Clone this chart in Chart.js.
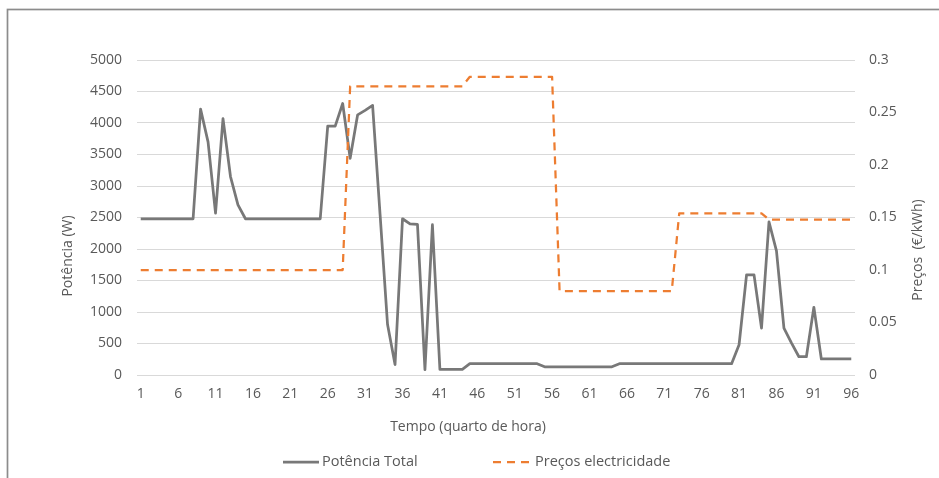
<!DOCTYPE html>
<html>
<head>
<meta charset="utf-8">
<script src="https://cdn.jsdelivr.net/npm/chart.js@4/dist/chart.umd.min.js"></script>
<style>
  html, body { margin: 0; padding: 0; background: #ffffff; }
  canvas { display: block; }
</style>
</head>
<body>
<canvas id="chart" width="939" height="478"></canvas>
<script>
// Quarter-hour slots of the day (1..96)
const quarters = [
  1, 2, 3, 4, 5, 6, 7, 8, 9, 10, 11, 12, 13, 14, 15, 16,
  17, 18, 19, 20, 21, 22, 23, 24, 25, 26, 27, 28, 29, 30, 31, 32,
  33, 34, 35, 36, 37, 38, 39, 40, 41, 42, 43, 44, 45, 46, 47, 48,
  49, 50, 51, 52, 53, 54, 55, 56, 57, 58, 59, 60, 61, 62, 63, 64,
  65, 66, 67, 68, 69, 70, 71, 72, 73, 74, 75, 76, 77, 78, 79, 80,
  81, 82, 83, 84, 85, 86, 87, 88, 89, 90, 91, 92, 93, 94, 95, 96
];

// Total power per quarter hour (W)
const potenciaTotal = [
  2480, 2480, 2480, 2480, 2480, 2480, 2480, 2480, 4220, 3700, 2570, 4070, 3150, 2700, 2480, 2480,
  2480, 2480, 2480, 2480, 2480, 2480, 2480, 2480, 2480, 3950, 3950, 4310, 3440, 4130, 4200, 4280,
  2550, 800, 165, 2480, 2400, 2390, 85, 2385, 90, 90, 90, 90, 180, 180, 180, 180,
  180, 180, 180, 180, 180, 180, 130, 130, 130, 130, 130, 130, 130, 130, 130, 130,
  180, 180, 180, 180, 180, 180, 180, 180, 180, 180, 180, 180, 180, 180, 180, 180,
  480, 1590, 1590, 745, 2430, 1970, 745, 510, 290, 290, 1075, 255, 255, 255, 255, 255
];

// Electricity price per quarter hour (€/kWh)
const precosElectricidade = [
  0.1, 0.1, 0.1, 0.1, 0.1, 0.1, 0.1, 0.1, 0.1, 0.1, 0.1, 0.1, 0.1, 0.1, 0.1, 0.1,
  0.1, 0.1, 0.1, 0.1, 0.1, 0.1, 0.1, 0.1, 0.1, 0.1, 0.1, 0.1, 0.275, 0.275, 0.275, 0.275,
  0.275, 0.275, 0.275, 0.275, 0.275, 0.275, 0.275, 0.275, 0.275, 0.275, 0.275, 0.275, 0.284, 0.284, 0.284, 0.284,
  0.284, 0.284, 0.284, 0.284, 0.284, 0.284, 0.284, 0.284, 0.08, 0.08, 0.08, 0.08, 0.08, 0.08, 0.08, 0.08,
  0.08, 0.08, 0.08, 0.08, 0.08, 0.08, 0.08, 0.08, 0.154, 0.154, 0.154, 0.154, 0.154, 0.154, 0.154, 0.154,
  0.154, 0.154, 0.154, 0.154, 0.148, 0.148, 0.148, 0.148, 0.148, 0.148, 0.148, 0.148, 0.148, 0.148, 0.148, 0.148
];

// Labels shown on the time axis
const xTickLabels = ['1', '6', '11', '16', '21', '26', '31', '36', '41', '46', '51', '56', '61', '66', '71', '76', '81', '86', '91', '96'];
// Labels for the power axis and the price axis
const powerTickLabels = ['0', '500', '1000', '1500', '2000', '2500', '3000', '3500', '4000', '4500', '5000'];
const priceTickLabels = ['0', '0.05', '0.1', '0.15', '0.2', '0.25', '0.3'];

const seriesNames = ['Potência Total', 'Preços electricidade'];
const axisTitles = { x: 'Tempo (quarto de hora)', y: 'Potência (W)', y1: 'Preços  (€/kWh)' };

const TEXT = '#595959';
const GREY = '#787878';
const ORANGE = '#ED7D31';
const FONT_FAMILY = '"Open Sans", "Noto Sans", sans-serif';
const DASH = [8, 6];

// Frame, axis titles and legend drawn on the canvas
const decorations = {
  id: 'decorations',
  beforeDraw(chart) {
    const ctx = chart.ctx;
    ctx.save();
    ctx.strokeStyle = '#8c8c8c';
    ctx.lineWidth = 1.7;
    ctx.strokeRect(7.5, 9.5, 2000, 2000);
    ctx.restore();
  },
  afterDraw(chart) {
    const ctx = chart.ctx;
    ctx.save();
    ctx.fillStyle = TEXT;
    ctx.font = '14px ' + FONT_FAMILY;
    ctx.textBaseline = 'middle';

    // x title
    ctx.textAlign = 'center';
    ctx.fillText(axisTitles.x, 468, 427);

    // left title
    ctx.save();
    ctx.translate(68, 256);
    ctx.rotate(-Math.PI / 2);
    ctx.fillText(axisTitles.y, 0, 0);
    ctx.restore();

    // right title
    ctx.save();
    ctx.translate(918, 250);
    ctx.rotate(-Math.PI / 2);
    ctx.fillText(axisTitles.y1, 0, 0);
    ctx.restore();

    // legend
    const ly = 462;
    ctx.font = '14.5px ' + FONT_FAMILY;
    ctx.textAlign = 'left';
    ctx.lineCap = 'butt';
    ctx.strokeStyle = GREY;
    ctx.lineWidth = 2.75;
    ctx.beginPath();
    ctx.moveTo(283, ly);
    ctx.lineTo(319, ly);
    ctx.stroke();
    ctx.fillText(seriesNames[0], 322, ly);

    ctx.strokeStyle = ORANGE;
    ctx.lineWidth = 2.25;
    ctx.setLineDash(DASH);
    ctx.beginPath();
    ctx.moveTo(493, ly);
    ctx.lineTo(531, ly);
    ctx.stroke();
    ctx.setLineDash([]);
    ctx.fillText(seriesNames[1], 535, ly);
    ctx.restore();
  }
};

const tickFont = { family: FONT_FAMILY, size: 14 };

new Chart(document.getElementById('chart'), {
  type: 'line',
  data: {
    labels: quarters,
    datasets: [
      {
        label: seriesNames[0],
        data: potenciaTotal,
        yAxisID: 'y',
        borderColor: GREY,
        backgroundColor: GREY,
        borderWidth: 2.75,
        borderJoinStyle: 'round',
        pointRadius: 0,
        tension: 0,
        order: 2
      },
      {
        label: seriesNames[1],
        data: precosElectricidade,
        yAxisID: 'y1',
        borderColor: ORANGE,
        backgroundColor: ORANGE,
        borderWidth: 2.25,
        borderDash: DASH,
        borderJoinStyle: 'round',
        pointRadius: 0,
        tension: 0,
        order: 1
      }
    ]
  },
  options: {
    responsive: false,
    animation: false,
    layout: { padding: { top: 60, left: 0, right: 0, bottom: 0 } },
    plugins: {
      legend: { display: false },
      tooltip: { enabled: false }
    },
    scales: {
      x: {
        offset: true,
        grid: { display: false, drawTicks: false },
        border: { display: false },
        ticks: {
          autoSkip: false,
          maxRotation: 0,
          minRotation: 0,
          padding: 11,
          color: TEXT,
          font: tickFont,
          callback(value, index) {
            const label = String(quarters[index]);
            return xTickLabels.includes(label) ? label : '';
          }
        },
        afterFit(scale) { scale.height = 103; }
      },
      y: {
        position: 'left',
        min: 0,
        max: 5000,
        grid: { color: '#d9d9d9', lineWidth: 1, drawTicks: false },
        border: { display: false },
        ticks: {
          stepSize: 500,
          padding: 15,
          color: TEXT,
          font: tickFont,
          callback(value, index) { return powerTickLabels[index]; }
        },
        afterFit(scale) { scale.width = 137; }
      },
      y1: {
        position: 'right',
        min: 0,
        max: 0.3,
        grid: { drawOnChartArea: false, drawTicks: false },
        border: { display: false },
        ticks: {
          stepSize: 0.05,
          padding: 14,
          color: TEXT,
          font: tickFont,
          callback(value, index) { return priceTickLabels[index]; }
        },
        afterFit(scale) { scale.width = 84; }
      }
    }
  },
  plugins: [decorations]
});
</script>
</body>
</html>
